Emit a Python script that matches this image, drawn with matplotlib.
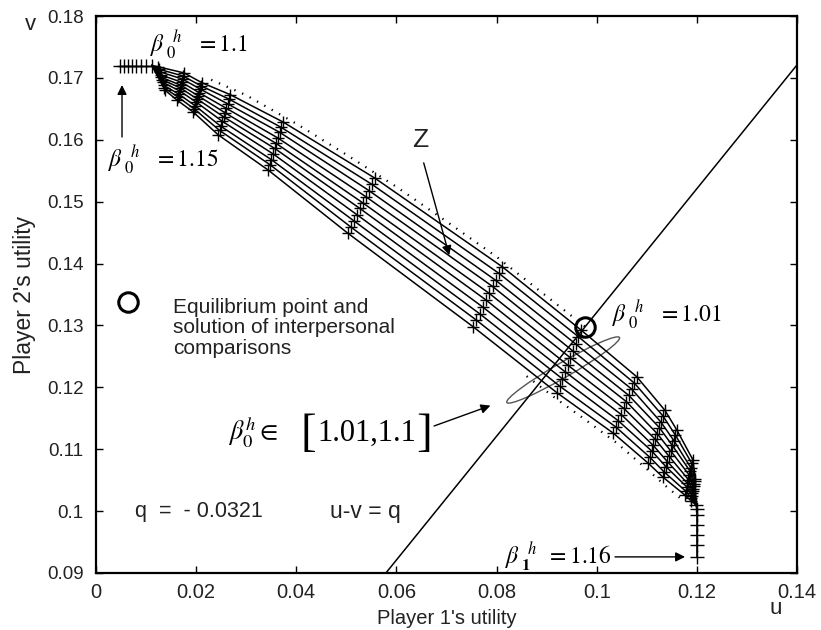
import matplotlib
matplotlib.use('Agg')
from matplotlib import pyplot as plt
from matplotlib.patches import Ellipse
import matplotlib.transforms as mtransforms

plt.rcParams['font.family'] = ['Liberation Sans', 'DejaVu Sans']
plt.rcParams['mathtext.fontset'] = 'stix'

# '+' marker strips, one row per strip, values listed from the top curve to the bottom curve
strip_u = [
    [0.0124, 0.0126, 0.0127, 0.0129, 0.0130, 0.0132, 0.0133, 0.0135, 0.0136, 0.0138],
    [0.0176, 0.0174, 0.0173, 0.0171, 0.0170, 0.0168, 0.0167, 0.0165, 0.0164, 0.0162],
    [0.0212, 0.0210, 0.0208, 0.0206, 0.0204, 0.0202, 0.0200, 0.0198, 0.0196, 0.0194],
    [0.0268, 0.0265, 0.0263, 0.0260, 0.0257, 0.0255, 0.0252, 0.0249, 0.0247, 0.0244],
    [0.0373, 0.0370, 0.0367, 0.0363, 0.0360, 0.0357, 0.0354, 0.0350, 0.0347, 0.0344],
    [0.0557, 0.0551, 0.0545, 0.0539, 0.0533, 0.0527, 0.0521, 0.0515, 0.0509, 0.0503],
    [0.0811, 0.0805, 0.0798, 0.0792, 0.0785, 0.0779, 0.0772, 0.0766, 0.0759, 0.0753],
    [0.0968, 0.0963, 0.0958, 0.0952, 0.0947, 0.0942, 0.0937, 0.0931, 0.0926, 0.0921],
    [0.1080, 0.1075, 0.1070, 0.1064, 0.1059, 0.1054, 0.1049, 0.1043, 0.1038, 0.1033],
    [0.1136, 0.1132, 0.1128, 0.1125, 0.1121, 0.1117, 0.1113, 0.1110, 0.1106, 0.1102],
    [0.1160, 0.1157, 0.1154, 0.1151, 0.1148, 0.1144, 0.1141, 0.1138, 0.1135, 0.1132],
    [0.1192, 0.1190, 0.1188, 0.1187, 0.1185, 0.1183, 0.1181, 0.1180, 0.1178, 0.1176],
    [0.1197, 0.1196, 0.1195, 0.1194, 0.1193, 0.1192, 0.1191, 0.1190, 0.1189, 0.1188],
]
strip_v = [
    [0.1718, 0.1714, 0.1710, 0.1705, 0.1701, 0.1697, 0.1693, 0.1688, 0.1684, 0.1680],
    [0.1708, 0.1703, 0.1698, 0.1693, 0.1688, 0.1684, 0.1679, 0.1674, 0.1669, 0.1664],
    [0.1692, 0.1687, 0.1682, 0.1676, 0.1671, 0.1666, 0.1661, 0.1655, 0.1650, 0.1645],
    [0.1673, 0.1666, 0.1658, 0.1651, 0.1644, 0.1637, 0.1630, 0.1622, 0.1615, 0.1608],
    [0.1629, 0.1620, 0.1612, 0.1603, 0.1594, 0.1586, 0.1577, 0.1568, 0.1560, 0.1551],
    [0.1538, 0.1528, 0.1518, 0.1508, 0.1498, 0.1489, 0.1479, 0.1469, 0.1459, 0.1449],
    [0.1395, 0.1384, 0.1373, 0.1363, 0.1352, 0.1341, 0.1330, 0.1319, 0.1309, 0.1298],
    [0.1293, 0.1282, 0.1270, 0.1259, 0.1248, 0.1236, 0.1225, 0.1214, 0.1202, 0.1191],
    [0.1217, 0.1207, 0.1197, 0.1187, 0.1177, 0.1166, 0.1156, 0.1146, 0.1136, 0.1126],
    [0.1163, 0.1154, 0.1144, 0.1135, 0.1125, 0.1116, 0.1106, 0.1097, 0.1087, 0.1078],
    [0.1131, 0.1123, 0.1114, 0.1106, 0.1097, 0.1089, 0.1080, 0.1072, 0.1063, 0.1055],
    [0.1083, 0.1077, 0.1070, 0.1064, 0.1058, 0.1051, 0.1045, 0.1039, 0.1032, 0.1026],
    [0.1052, 0.1048, 0.1044, 0.1040, 0.1036, 0.1033, 0.1029, 0.1025, 0.1021, 0.1017],
]
start_pt = (0.0112, 0.1720)     # where the curves leave the top row
end_pt = (0.1198, 0.1010)       # where the curves meet the vertical segment

# top row (beta0 from 1.1 to 1.15) and right vertical segment (beta1 up to 1.16)
row_u = [0.0048, 0.0056, 0.0064, 0.0072, 0.0080, 0.0090, 0.0100, 0.0112]
row_v = [0.1720, 0.1720, 0.1720, 0.1720, 0.1720, 0.1720, 0.1720, 0.1720]
col_u = [0.1198, 0.1200, 0.1200, 0.1200, 0.1200, 0.1200, 0.1200]
col_v = [0.1010, 0.1003, 0.0994, 0.0978, 0.0961, 0.0945, 0.0926]

# dotted boundaries of the region Z
upper_u = [0.0230, 0.0300, 0.0400, 0.0500, 0.0600, 0.0700, 0.0800, 0.0900, 0.0977]
upper_v = [0.1697, 0.1672, 0.1626, 0.1576, 0.1524, 0.1468, 0.1411, 0.1347, 0.1298]
lower_u = [0.0860, 0.0920, 0.0980, 0.1040, 0.1100, 0.1140, 0.1170]
lower_v = [0.1218, 0.1181, 0.1146, 0.1110, 0.1068, 0.1039, 0.1019]

q = -0.0321
qline_u = [0.0579, 0.1400]
eq_u, eq_v = 0.0977, 0.1298

fig = plt.figure(figsize=(8.21, 6.30), dpi=100)
ax = fig.add_axes([0.1169, 0.0905, 0.8539, 0.8841])

n_curves = len(strip_u[0])
for i in range(n_curves):
    cu = [start_pt[0]] + [s[i] for s in strip_u] + [end_pt[0]]
    cv = [start_pt[1]] + [s[i] for s in strip_v] + [end_pt[1]]
    ax.plot(cu, cv, color='black', lw=1.1)
    ax.plot(cu[1:-1], cv[1:-1], ls='none', marker='+', ms=9, mew=1.0, color='black')

ax.plot(row_u, row_v, color='black', lw=1.0, marker='+', ms=10, mew=1.0)
ax.plot(col_u, col_v, color='black', lw=1.0, marker='+', ms=10, mew=1.0)
ax.plot(upper_u, upper_v, color='black', lw=1.6, ls=(0, (0.6, 3.2)))
ax.plot(lower_u, lower_v, color='black', lw=1.6, ls=(0, (0.6, 3.2)))

qline_v = [u - q for u in qline_u]
ax.plot(qline_u, qline_v, color='black', lw=1.1)

ax.plot(eq_u, eq_v, marker='o', ms=14, mfc='none', mec='black', mew=2.2)
ax.plot(0.0064, 0.1338, marker='o', ms=14, mfc='none', mec='black', mew=2.2, clip_on=False)

# ellipse around the beta0 range
etr = fig.dpi_scale_trans + mtransforms.ScaledTranslation(0.0933, 0.1228, ax.transData)
ax.add_patch(Ellipse((0, 0), 1.30, 0.15, angle=30, transform=etr, fill=False,
                     edgecolor='#555555', lw=1.0))

tc = '#222222'
ax.text(0.0154, 0.1296, 'Equilibrium point and\nsolution of interpersonal\ncomparisons',
        fontsize=15, color=tc, va='center', ha='left', linespacing=1.12)
ax.text(0.0078, 0.0999, 'q  =  - 0.0321', fontsize=15.5, color=tc, va='center')
ax.text(0.0467, 0.0999, 'u-v = q', fontsize=16.5, color=tc, va='center')
ax.text(0.0647, 0.1600, 'Z', fontsize=19, color=tc, va='center', ha='center')
ax.annotate('', xy=(0.0707, 0.1409), xytext=(0.0653, 0.1567),
            arrowprops=dict(arrowstyle='-|>', color='black', lw=1.0, mutation_scale=14))

ax.text(0.0108, 0.1753, r'$\beta_{\;0}^{\;\;h}\;\;\;=1.1$', fontsize=17, va='center')
ax.text(0.0024, 0.1567, r'$\beta_{\;0}^{\;\;h}\;\;\;=1.15$', fontsize=17, va='center')
ax.annotate('', xy=(0.0052, 0.1693), xytext=(0.0052, 0.1600),
            arrowprops=dict(arrowstyle='-|>', color='black', lw=1.0, mutation_scale=14))
ax.text(0.1031, 0.1317, r'$\beta_{\;0}^{\;\;h}\;\;\;=1.01$', fontsize=17, va='center')

# beta0 in [1.01, 1.1] with tall brackets
ax.text(0.0264, 0.1126, r'$\beta_0^h \in$', fontsize=19, va='center')
ax.text(0.0408, 0.1124, '[', fontsize=34, va='center', family='Liberation Serif')
ax.text(0.0443, 0.1126, '1.01,1.1', fontsize=22, va='center', family='Liberation Serif')
ax.text(0.0640, 0.1124, ']', fontsize=34, va='center', family='Liberation Serif')
ax.annotate('', xy=(0.0793, 0.1172), xytext=(0.0670, 0.1136),
            arrowprops=dict(arrowstyle='-|>', color='black', lw=1.0, mutation_scale=14))

ax.text(0.0817, 0.0926, r'$\beta_{\;\mathbf{1}}^{\;\;h}\;\;=1.16$', fontsize=17, va='center')
ax.annotate('', xy=(0.1182, 0.0926), xytext=(0.1031, 0.0926),
            arrowprops=dict(arrowstyle='-|>', color='black', lw=1.0, mutation_scale=14))

ax.set_xlim(0, 0.14)
ax.set_ylim(0.09, 0.18)
xt = [0, 0.02, 0.04, 0.06, 0.08, 0.1, 0.12, 0.14]
yt = [0.09, 0.1, 0.11, 0.12, 0.13, 0.14, 0.15, 0.16, 0.17, 0.18]
ax.set_xticks(xt)
ax.set_xticklabels(['0', '0.02', '0.04', '0.06', '0.08', '0.1', '0.12', '0.14'])
ax.set_yticks(yt)
ax.set_yticklabels(['0.09', '0.1', '0.11', '0.12', '0.13', '0.14', '0.15', '0.16', '0.17', '0.18'])
ax.tick_params(axis='both', direction='in', top=True, right=True, length=5, width=1.0, colors='black')
ax.tick_params(axis='x', labelsize=14.5, pad=7, labelcolor=tc)
ax.tick_params(axis='y', labelsize=13.5, pad=9, labelcolor=tc)
for sp in ax.spines.values():
    sp.set_linewidth(1.6)

ax.set_xlabel("Player 1's utility", fontsize=14.5, color=tc, labelpad=5)
ax.set_ylabel("Player 2's utility", fontsize=16.5, color=tc, labelpad=8)
ax.text(0.970, -0.063, 'u', transform=ax.transAxes, fontsize=16, color=tc, ha='center', va='center')
ax.text(-0.094, 0.984, 'v', transform=ax.transAxes, fontsize=16, color=tc, ha='center', va='center')

fig.savefig('out.png', dpi=100)
